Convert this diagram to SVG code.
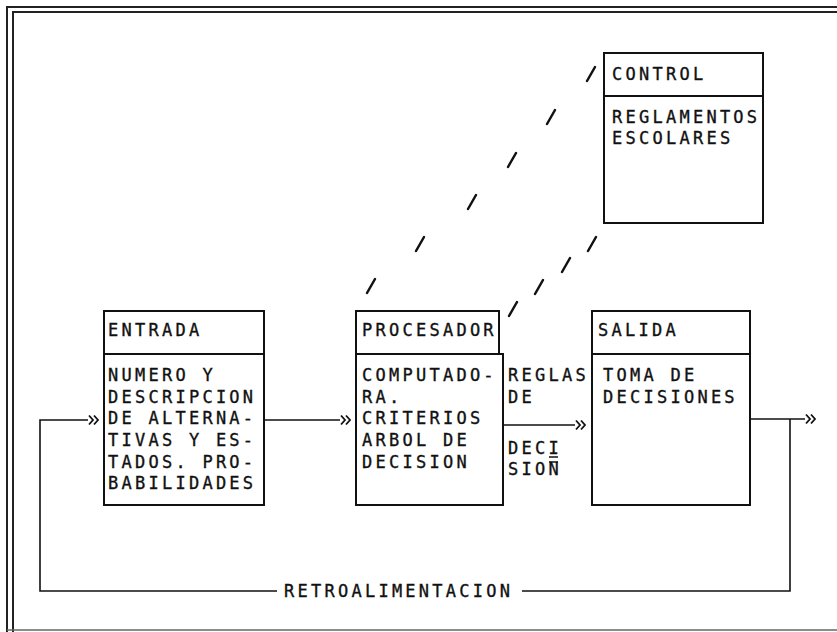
<svg xmlns="http://www.w3.org/2000/svg" width="837" height="632" viewBox="0 0 837 632">
<defs>
<style>
.t{font-family:"DejaVu Sans Mono","Liberation Mono",monospace;font-size:17px;letter-spacing:3.25px;fill:#111;stroke:#111;stroke-width:0.35}
.b{fill:none;stroke:#111;stroke-width:2}
.c{fill:none;stroke:#111;stroke-width:1.6}
.s{stroke:#111;stroke-width:2.5;stroke-linecap:round}
.f{fill:none;stroke:#222;stroke-width:2}
</style>
<marker id="dbl" markerUnits="userSpaceOnUse" markerWidth="12" markerHeight="12" viewBox="0 0 12 12" refX="0" refY="6" orient="auto">
<path d="M1,1.5 L5,6 L1,10.5 M6,1.5 L10,6 L6,10.5" fill="none" stroke="#111" stroke-width="1.8"/>
</marker>
</defs>
<rect width="837" height="632" fill="#fff"/>
<g id="frame">
<path class="f" d="M837,7 H7 V632"/>
<path class="f" d="M837,12 H13 V632"/>
<path d="M7,630 H837" fill="none" stroke="#666" stroke-width="1.5"/>
</g>
<g id="connectors">
<path class="c" d="M277,591 H40 V420 H88" marker-end="url(#dbl)"/>
<path class="c" d="M264,420 H340" marker-end="url(#dbl)"/>
<path class="c" d="M503,425 H575" marker-end="url(#dbl)"/>
<path class="c" d="M750,419 H805" marker-end="url(#dbl)"/>
<path class="c" d="M522,591 H790 V419"/>
<text class="t" x="284" y="597">RETROALIMENTACION</text>
<g id="reglas-label">
<text class="t" x="508" y="381">REGLAS</text>
<text class="t" x="508" y="403">DE</text>
<text class="t" x="508" y="454">DECI</text>
<text class="t" x="508" y="475">SION</text>
<path class="c" d="M549,457 H558 M549,462 H558"/>
</g>
<g id="control-links">
<line class="s" x1="587" y1="81" x2="595" y2="67"/>
<line class="s" x1="547" y1="124" x2="555" y2="110"/>
<line class="s" x1="508" y1="167" x2="516" y2="153"/>
<line class="s" x1="468" y1="209" x2="476" y2="195"/>
<line class="s" x1="416" y1="251" x2="424" y2="237"/>
<line class="s" x1="367" y1="293" x2="375" y2="279"/>
<line class="s" x1="588" y1="251" x2="596" y2="237"/>
<line class="s" x1="562" y1="272" x2="570" y2="258"/>
<line class="s" x1="535" y1="294" x2="543" y2="280"/>
<line class="s" x1="509" y1="316" x2="517" y2="302"/>
</g>
</g>
<g id="entrada">
<rect class="b" x="104" y="311" width="160" height="43"/>
<rect class="b" x="104" y="354" width="160" height="151"/>
<text class="t" x="108" y="336">ENTRADA</text>
<text class="t" x="108" y="381">NUMERO Y</text>
<text class="t" x="108" y="403">DESCRIPCION</text>
<text class="t" x="108" y="424">DE ALTERNA-</text>
<text class="t" x="108" y="446">TIVAS Y ES-</text>
<text class="t" x="108" y="468">TADOS. PRO-</text>
<text class="t" x="108" y="489">BABILIDADES</text>
</g>
<g id="procesador">
<rect class="b" x="356" y="311" width="143" height="43"/>
<path class="b" d="M356,354 H503 V505 H356 Z"/>
<text class="t" x="362" y="336">PROCESADOR</text>
<text class="t" x="362" y="381">COMPUTADO-</text>
<text class="t" x="362" y="403">RA.</text>
<text class="t" x="362" y="424">CRITERIOS</text>
<text class="t" x="362" y="446">ARBOL DE</text>
<text class="t" x="362" y="468">DECISION</text>
</g>
<g id="salida">
<rect class="b" x="592" y="311" width="158" height="43"/>
<rect class="b" x="592" y="354" width="158" height="151"/>
<text class="t" x="598" y="336">SALIDA</text>
<text class="t" x="603" y="381">TOMA DE</text>
<text class="t" x="603" y="403">DECISIONES</text>
</g>
<g id="control">
<rect class="b" x="604" y="53" width="159" height="43"/>
<rect class="b" x="604" y="96" width="159" height="127"/>
<text class="t" x="612" y="80">CONTROL</text>
<text class="t" x="612" y="123">REGLAMENTOS</text>
<text class="t" x="612" y="144">ESCOLARES</text>
</g>
</svg>
